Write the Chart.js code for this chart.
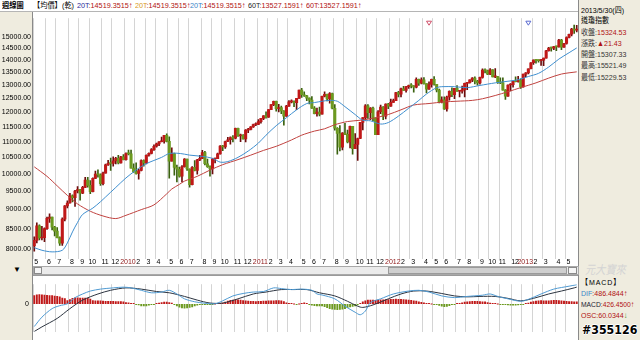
<!DOCTYPE html>
<html lang="zh-Hant">
<head>
<meta charset="utf-8">
<title>道瓊指數 週線圖</title>
<script src="https://cdn.jsdelivr.net/npm/chart.js@4.4.1/dist/chart.umd.min.js"></script>
<style>
  html, body { margin:0; padding:0; width:640px; height:340px; overflow:hidden; background:#fff; }
  body { position:relative; font-family:'Liberation Sans','Noto Sans CJK TC',sans-serif; font-size:8px; color:#000; }
  .a { position:absolute; white-space:nowrap; line-height:10px; transform-origin:0 0; }
  .h { transform:scaleX(0.9); }
  .q { transform:scaleX(0.88); }
  .panel { position:absolute; background:#efecdf; }
  .box { position:absolute; }
  .red { color:#b01010; }
  .dk { color:#333; }
</style>
</head>
<body>
<!-- header strip -->
<div class="box" style="left:0;top:0;width:578px;height:11px;border-bottom:1px solid #b5b5b5;"></div>
<span class="a h" style="left:2px;top:1px;font-weight:bold;">週線圖</span>
<span class="a h" style="left:33px;top:1px;">【均價】</span>
<span class="a h" style="left:62px;top:1px;">(乾)</span>
<span class="a h" style="left:77px;top:1px;"><span style="color:#2a2a9a">20T</span><span class="red">:14519.3515↑</span></span>
<span class="a h" style="left:135px;top:1px;"><span style="color:#d99a1a">20T</span><span class="red">:14519.3515↑</span></span>
<span class="a h" style="left:190px;top:1px;"><span style="color:#3b86c8">20T</span><span class="red">:14519.3515↑</span></span>
<span class="a h" style="left:248px;top:1px;"><span style="color:#222">60T</span><span class="red">:13527.1591↑</span></span>
<span class="a h" style="left:306px;top:1px;"><span class="red">60T:13527.1591↑</span></span>

<!-- left axis strip -->
<div class="panel" style="left:0;top:12px;width:32px;height:328px;border-right:1px solid #8a8a8a;"></div>

<!-- quote panel -->
<div class="panel" style="left:578px;top:0;width:62px;height:340px;border-left:1px solid #8a8a8a;"></div>
<span class="a q" style="left:581px;top:6px;">2013/5/30(四)</span>
<span class="a q" style="left:581px;top:16px;">道瓊指數</span>
<span class="a q dk" style="left:581px;top:28px;">收盤:<span class="red">15324.53</span></span>
<span class="a q dk" style="left:581px;top:39px;">漲跌:<span class="red">▲21.43</span></span>
<span class="a q dk" style="left:581px;top:50px;">開盤:15307.33</span>
<span class="a q dk" style="left:581px;top:61px;">最高:15521.49</span>
<span class="a q dk" style="left:581px;top:73px;">最低:15229.53</span>

<!-- scroll strip -->
<div class="panel" style="left:0;top:265px;width:32px;height:10px;"></div>
<span class="a" style="left:13px;top:265px;font-size:8px;">▼</span>
<div class="box" style="left:33px;top:266px;width:544px;height:7px;background:#ebebeb;border:1px solid #a8a8a8;"></div>
<div class="box" style="left:388px;top:267px;width:177px;height:5px;background:#cfcfcf;border:1px solid #9a9a9a;"></div>
<div class="box" style="left:34px;top:267px;width:6px;height:5px;background:#f6f6f6;border:1px solid #8a8a8a;"></div>
<div class="box" style="left:568px;top:267px;width:7px;height:5px;background:#f6f6f6;border:1px solid #8a8a8a;"></div>
<div class="box" style="left:33px;top:275px;width:545px;height:1px;background:#9a9a9a;"></div>

<!-- MACD legend -->
<span class="a" style="left:585px;top:263px;font-size:12px;font-style:italic;color:#d4d4d4;line-height:14px;transform:scaleX(0.85);">元大寶來</span>
<span class="a q" style="left:581px;top:278px;letter-spacing:1px;">【MACD】</span>
<span class="a q" style="left:581px;top:289px;"><span style="color:#3b86c8">DIF</span><span class="red">:486.4844↑</span></span>
<span class="a" style="left:581px;top:300px;transform:scaleX(0.84);"><span style="color:#223">MACD</span><span class="red">:426.4500↑</span></span>
<span class="a q" style="left:581px;top:311px;"><span class="red">OSC:60.0344</span><span style="color:#3a8a20">↓</span></span>
<span class="a" style="left:582px;top:323px;font-family:'DejaVu Sans',sans-serif;font-size:12px;font-weight:bold;line-height:14px;color:#000;text-shadow:-1px 0 #fff,1px 0 #fff,0 -1px #fff,0 1px #fff;transform:scaleX(0.92);">#355126</span>

<div class="box" style="left:0;top:12px;width:578px;height:253px;"><canvas id="priceChart"></canvas></div>
<div class="box" style="left:0;top:276px;width:578px;height:64px;"><canvas id="macdChart"></canvas></div>

<script>
// Dow Jones Industrial Average, weekly bars from 2009/5/1 to 2013/5/30
const open = [
  8076,8212,8575,8268,8277,8500,8764,8799,8539,8438,8280,8146,8743,9093,9172,9370,9321,9505,9544,9441,9605,9820,9665,9488,9865,9996,9972,9713,10023,10270,10318,10310,10389,10471,10329,10520,
  10428,10618,10610,10172,10067,10012,10099,10402,10325,10567,10625,10742,10850,10927,10997,11019,11204,11009,10380,10620,10193,10137,9932,10212,10450,10144,9686,10198,10098,10424,10466,10653,10303,10214,10150,10448,10463,10607,10860,10829,11006,11062,11133,11118,11444,11192,11204,11092,11382,11410,11491,11573,
  11578,11674,11787,11871,11823,12092,12273,12391,12130,12169,12044,11858,12220,12377,12380,12342,12506,12811,12638,12596,12512,12441,12151,11952,12004,11934,12582,12657,12480,12681,12143,11445,11269,10818,11285,11240,10992,11509,10771,10913,11103,11644,11809,12231,11983,12153,11796,11231,12019,12184,11866,12294,
  12218,12360,12422,12720,12660,12862,12801,12950,12983,12978,12922,13233,13081,13212,13060,12850,13029,13228,13038,12820,12369,12455,12119,12554,12767,12640,12880,12772,12777,12822,13075,13096,13207,13275,13157,13090,13306,13593,13579,13437,13610,13328,13343,13107,13093,12815,12588,13010,13026,13155,13135,13191,
  12938,13435,13488,13650,13896,14010,13993,13982,14001,14090,14397,14514,14512,14579,14565,14865,14547,14712,14974,15118,15354,15307.33
];
const high = [
  8300,8650,8600,8560,8520,8800,8880,8800,8560,8530,8300,8780,9100,9230,9440,9400,9520,9630,9550,9640,9900,9900,9800,9880,10080,10120,10000,10050,10290,10410,10480,10520,10500,10560,10530,10590,
  10640,10730,10730,10300,10330,10140,10420,10420,10580,10640,10780,10900,10950,11000,11150,11210,11260,11160,10800,10630,10260,10200,10250,10460,10450,10150,10220,10400,10440,10560,10720,10690,10450,10240,10460,10480,10630,10870,10880,11020,11140,11160,11200,11450,11450,11250,11230,11400,11440,11500,11590,11630,
  11740,11790,11880,12020,12100,12280,12400,12400,12290,12220,12060,12250,12420,12450,12410,12510,12820,12880,12750,12620,12520,12570,12200,12150,12190,12590,12750,12660,12720,12700,12280,11470,11540,11300,11610,11380,11520,11510,11270,11120,11650,11810,12280,12280,12170,12190,11800,12060,12260,12200,12300,12320,
  12480,12480,12730,12770,12890,12960,12960,13010,13060,12990,13290,13240,13290,13300,13060,13130,13240,13340,13040,12850,12560,12560,12590,12790,12900,12880,12990,12800,12970,13080,13110,13210,13300,13330,13190,13320,13650,13650,13600,13660,13620,13660,13350,13290,13290,12830,13020,13060,13160,13330,13350,13250,
  13440,13500,13650,13900,14020,14020,14020,14040,14090,14420,14540,14560,14590,14600,14890,14890,14720,15010,15130,15390,15540,15521.49
];
const low = [
  7950,8150,8220,8220,8180,8480,8660,8470,8320,8270,8090,8090,8700,9040,9170,9200,9080,9450,9250,9430,9600,9610,9430,9480,9860,9900,9660,9680,10020,10250,10100,10230,10300,10300,10320,10420,
  10410,10580,10170,10040,9990,9840,10090,10230,10300,10540,10610,10720,10820,10870,10990,10950,10990,9870,10380,9960,9760,9900,9760,10200,10100,9610,9680,10090,9990,10400,10460,10270,10190,9930,10000,10330,10460,10600,10710,10780,11000,10920,10990,11090,11170,11000,11080,10990,11300,11390,11470,11530,
  11570,11620,11740,11790,11820,12090,12240,12040,12010,11950,11550,11850,12210,12340,12200,12090,12500,12540,12580,12420,12300,12140,11940,11860,11870,11930,12560,12410,12330,12120,11380,10600,10700,10730,11230,10960,10800,10600,10770,10404,11100,11390,11720,11780,11740,11700,11230,11230,11950,11740,11770,12130,
  12210,12360,12420,12560,12560,12800,12740,12880,12900,12740,12900,12990,13050,13040,12710,12840,12930,13000,12750,12340,12340,12100,12040,12440,12570,12490,12760,12560,12700,12560,12830,13080,13140,13050,13000,13040,13280,13480,13410,13410,13320,13300,13070,13060,12810,12470,12580,12780,12930,13130,13120,12880,
  12930,13330,13440,13640,13830,13880,13920,13790,13780,14090,14380,14380,14450,14400,14550,14440,14540,14680,14960,15050,15160,15229.53
];
const close = [
  8212,8575,8268,8277,8500,8764,8799,8539,8438,8280,8146,8743,9093,9172,9370,9321,9505,9544,9441,9605,9820,9665,9488,9865,9996,9972,9713,10023,10270,10318,10310,10389,10471,10329,10520,10428,
  10618,10610,10172,10067,10012,10099,10402,10325,10567,10625,10742,10850,10927,10997,11019,11204,11009,10380,10620,10193,10137,9932,10212,10450,10144,9686,10198,10098,10424,10466,10653,10303,10214,10150,10448,10463,10607,10860,10829,11006,11062,11133,11118,11444,11192,11204,11092,11382,11410,11491,11573,11578,
  11674,11787,11871,11823,12092,12273,12391,12130,12169,12044,11858,12220,12377,12380,12342,12506,12811,12638,12596,12512,12441,12151,11952,12004,11934,12582,12657,12480,12681,12143,11445,11269,10818,11285,11240,10992,11509,10771,10913,11103,11644,11809,12231,11983,12153,11796,11231,12019,12184,11866,12294,12218,
  12360,12422,12720,12660,12862,12801,12950,12983,12978,12922,13233,13081,13212,13060,12850,13029,13228,13038,12820,12369,12455,12119,12554,12767,12640,12880,12772,12777,12822,13075,13096,13207,13275,13157,13090,13306,13593,13579,13437,13610,13328,13343,13107,13093,12815,12588,13010,13026,13155,13135,13191,12938,
  13435,13488,13650,13896,14010,13993,13982,14001,14090,14397,14514,14512,14579,14565,14865,14547,14712,14974,15118,15354,15303.10,15324.53
];

// 20-week and 60-week moving averages: [week index, value]
const ma20 = [
  [0,8036],[3,7974],[7,7936],[11,7974],[13,8150],[15,8420],[17,8661],[19,8868],[23,9035],[26,9207],[28,9337],[32,9605],
  [36,9879],[40,10112],[44,10305],[50,10500],[53,10620],[56,10630],[59,10600],[61,10570],[66,10530],[70,10471],[73,10353],
  [76,10370],[80,10500],[84,10698],[88,10953],[91,11213],[95,11533],[99,11807],[103,12088],[107,12315],[110,12350],[113,12399],
  [116,12430],[119,12399],[122,12201],[126,11919],[129,11720],[132,11700],[136,11589],[139,11640],[143,11864],[147,12143],
  [151,12430],[154,12667],[158,12909],[160,12945],[165,12945],[170,12909],[175,12993],[181,13092],[186,13155],[190,13214],
  [194,13341],[198,13466],[202,13722],[206,14048],[210,14315],[213,14519.35]
];
const ma60 = [
  [0,10209],[5,9926],[9,9650],[13,9381],[17,9147],[22,8951],[27,8826],[32,8759],[36,8843],[42,8994],[47,9121],[52,9424],
  [54,9560],[57,9693],[59,9787],[64,9926],[69,10112],[74,10275],[80,10430],[85,10569],[90,10718],[95,10849],[101,11055],
  [105,11213],[110,11349],[114,11427],[118,11566],[123,11675],[128,11720],[134,11807],[139,11919],[144,12088],[149,12260],
  [155,12315],[161,12375],[166,12399],[172,12430],[176,12491],[181,12611],[186,12753],[191,12909],[197,13092],[202,13278],
  [207,13439],[213,13527.16]
];

// MACD(12,26,9): DIF and signal line [week index, value], OSC per week
const dif = [
  [0,-570],[3,-333],[7,-117],[10,-43],[13,6],[16,161],[19,253],[22,327],[26,376],[31,407],[35,425],[38,407],[42,346],
  [46,283],[50,302],[53,346],[56,253],[59,130],[63,56],[67,19],[71,6],[74,80],[78,204],[82,265],[86,302],[90,315],
  [94,407],[97,389],[101,364],[105,376],[109,346],[111,253],[113,228],[118,130],[122,-56],[126,-209],[128,-272],
  [130,-179],[132,37],[136,130],[141,253],[147,327],[151,346],[155,302],[160,204],[165,161],[170,191],[176,222],
  [179,253],[182,191],[186,130],[191,68],[194,117],[199,253],[204,376],[210,450],[213,486.4844]
];
const signal = [
  [0,-695],[3,-579],[9,-364],[14,-117],[19,98],[25,253],[30,346],[36,407],[42,376],[48,315],[53,283],[59,191],[64,98],
  [69,24],[74,24],[80,130],[86,253],[91,302],[97,364],[102,364],[107,364],[112,283],[118,204],[123,68],[127,-56],
  [129,-87],[133,-24],[139,130],[144,253],[149,327],[154,327],[160,265],[165,204],[170,180],[175,191],[181,191],
  [186,142],[191,80],[196,142],[202,253],[207,327],[212,407],[213,426.45]
];
const osc = [
  222,240,245,240,235,225,222,218,210,203,190,160,148,92,120,150,166,166,160,157,157,150,130,95,90,90,85,83,
  78,75,74,74,72,70,68,60,46,40,28,10,-5,-30,-55,-60,-55,-40,-20,-5,5,30,45,55,55,45,30,
  -20,-60,-90,-110,-115,-110,-95,-80,-60,-40,-25,-15,-10,-8,-5,-3,0,5,10,
  30,55,80,100,110,116,112,105,95,85,80,78,75,72,75,78,80,82,85,88,90,92,95,90,70,40,20,5,0,-5,0,25,35,20,
  -20,-40,-50,-55,-60,-55,-75,-100,-125,-140,-148,-150,-148,-140,-125,-100,-80,-70,-55,-30,
  20,60,90,110,105,110,100,105,112,115,118,120,125,128,130,128,125,120,115,110,100,90,80,65,50,35,20,8,0,-5,
  -20,-45,-65,-75,-70,-50,-25,-5,5,20,40,55,65,72,75,75,74,70,65,60,45,30,15,5,0,-5,-10,
  -20,-30,-38,-40,-38,-30,-20,-8,5,
  30,55,70,80,88,92,90,85,88,95,100,98,92,85,80,78,72,68,64,60.0344
];

const priceTicks = [8000,8500,9000,9500,10000,10500,11000,11500,12000,12500,13000,13500,14000,14500,15000];
const eventWeeks = [155, 194];
const eventColors = ['#d0506a', '#5a6ad0'];

// one bar per trading week, dated by its last session (New Year's Day closes the market)
const weeks = close.map((_, i) => {
  let d = new Date(Date.UTC(2009, 4, 1) + i * 7 * 864e5);
  if (d.getUTCMonth() === 0 && d.getUTCDate() === 1) d = new Date(d.getTime() - 864e5);
  return d.getUTCFullYear() + '/' + (d.getUTCMonth() + 1) + '/' + d.getUTCDate();
});
weeks[weeks.length - 1] = '2013/5/30';
const monthStart = weeks.map((w, i) => i === 0 || w.split('/')[1] !== weeks[i - 1].split('/')[1]);
const tickText = weeks.map(w => { const [y, m] = w.split('/'); return m === '1' ? y : m; });
const isYear = weeks.map((w, i) => monthStart[i] && w.split('/')[1] === '1');

const UP = '#c01818', UP_WICK = '#6e0d0d', DN = '#6c9a20', DN_WICK = '#3b6210';
const up = close.map((c, i) => c >= open[i]);

Chart.defaults.font.family = "'Liberation Sans', Arial, sans-serif";
Chart.defaults.font.size = 7;
Chart.defaults.color = '#000';
Chart.defaults.animation = false;
Chart.defaults.devicePixelRatio = 1;
Chart.defaults.plugins.legend.display = false;
Chart.defaults.plugins.tooltip.enabled = false;

function monthAxis(showLabels) {
  return {
    type: 'category',
    offset: true,
    border: { display: false },
    grid: {
      offset: true, drawTicks: false, lineWidth: 1,
      color: c => (monthStart[c.index] ? '#d4d4d4' : 'rgba(0,0,0,0)')
    },
    ticks: {
      display: showLabels, mirror: true, autoSkip: false, maxRotation: 0, minRotation: 0,
      padding: -7, labelOffset: 2,
      callback: (v, i) => (monthStart[i] ? tickText[i] : ''),
      color: c => (isYear[c.index] ? '#8c1414' : '#000')
    },
    afterFit: s => { s.height = 0; }
  };
}

const pts = arr => arr.map(([i, v]) => ({ x: weeks[i], y: v }));

const eventMarks = {
  id: 'eventMarks',
  afterDatasetsDraw(chart) {
    const { ctx, chartArea, scales } = chart;
    eventWeeks.forEach((w, k) => {
      const px = scales.x.getPixelForValue(w);
      const py = chartArea.top + 3;
      ctx.save();
      ctx.strokeStyle = eventColors[k];
      ctx.lineWidth = 1;
      ctx.beginPath();
      ctx.moveTo(px - 2.5, py); ctx.lineTo(px + 2.5, py); ctx.lineTo(px, py + 4); ctx.closePath();
      ctx.stroke();
      ctx.restore();
    });
  }
};

new Chart(document.getElementById('priceChart'), {
  type: 'bar',
  data: {
    labels: weeks,
    datasets: [
      { type: 'line', data: pts(ma20), borderColor: '#3f8fcf', borderWidth: 1, pointRadius: 0, tension: 0.3, order: 0 },
      { type: 'line', data: pts(ma60), borderColor: '#c0423f', borderWidth: 1, pointRadius: 0, tension: 0.3, order: 0 },
      { data: open.map((o, i) => [o, close[i]]), backgroundColor: up.map(u => (u ? UP : DN)),
        barThickness: 2.4, grouped: false, minBarLength: 1, order: 1 },
      { data: low.map((l, i) => [l, high[i]]), backgroundColor: up.map(u => (u ? UP_WICK : DN_WICK)),
        barThickness: 1, grouped: false, order: 2 }
    ]
  },
  options: {
    responsive: true, maintainAspectRatio: false,
    layout: { padding: 0 },
    events: [],
    scales: {
      x: monthAxis(true),
      y: {
        type: 'logarithmic', position: 'left', min: 7775, max: 15856,
        border: { display: false }, grid: { display: false, drawTicks: false },
        afterBuildTicks: s => { s.ticks = priceTicks.map(v => ({ value: v })); },
        afterFit: s => { s.width = 33; },
        ticks: { padding: 2, callback: v => Number(v).toFixed(2) }
      }
    }
  },
  plugins: [eventMarks]
});

new Chart(document.getElementById('macdChart'), {
  type: 'bar',
  data: {
    labels: weeks,
    datasets: [
      { type: 'line', data: pts(dif), borderColor: '#4f9ad2', borderWidth: 1, pointRadius: 0, tension: 0.3, order: 0 },
      { type: 'line', data: pts(signal), borderColor: '#2c3440', borderWidth: 1, pointRadius: 0, tension: 0.3, order: 0 },
      { data: osc, backgroundColor: osc.map(v => (v >= 0 ? UP : DN)),
        barPercentage: 0.75, categoryPercentage: 1, minBarLength: 1, order: 1 }
    ]
  },
  options: {
    responsive: true, maintainAspectRatio: false,
    layout: { padding: 0 },
    events: [],
    scales: {
      x: monthAxis(false),
      y: {
        min: -703, max: 500,
        border: { display: false }, grid: { display: false, drawTicks: false },
        afterBuildTicks: s => { s.ticks = [{ value: 0 }]; },
        afterFit: s => { s.width = 33; },
        ticks: { padding: 4 }
      }
    }
  }
});
</script>
</body>
</html>
